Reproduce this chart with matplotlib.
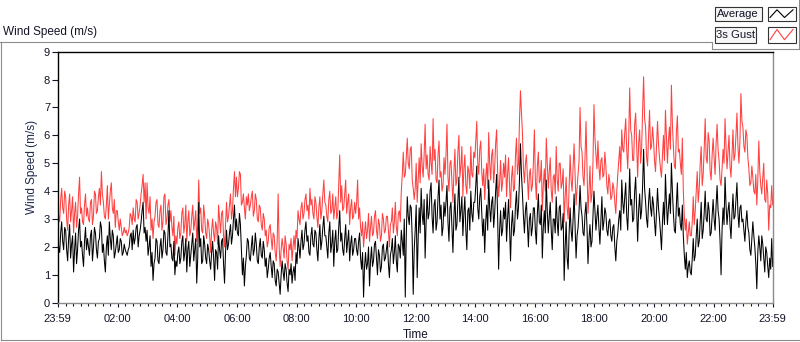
import numpy as np
import matplotlib
matplotlib.use("Agg")
import matplotlib.pyplot as plt
from matplotlib.lines import Line2D
from matplotlib.patches import Rectangle

plt.rcParams['font.family'] = ['Liberation Sans', 'DejaVu Sans']

# samples every 2 minutes, first sample at 23:59 of the previous day
start_min = -1
step_min = 2

# Average wind speed (m/s), one row per hour
avg_speed = [
    2.4, 2.0, 1.8, 2.5, 2.9, 2.2, 1.9, 2.7, 2.6, 1.9, 1.5, 2.3, 2.8, 1.6, 2.1, 2.4, 1.1, 1.9, 2.5, 1.4, 1.9, 2.6, 3.0, 2.0, 2.2, 1.7, 1.3, 2.2, 2.7, 1.9,
    2.3, 2.0, 1.7, 2.4, 2.6, 1.5, 2.0, 2.7, 2.5, 1.9, 1.6, 2.2, 2.3, 2.9, 2.7, 1.8, 2.1, 1.5, 1.1, 2.0, 2.4, 1.7, 2.9, 2.3, 1.9, 2.6, 2.4, 1.6, 1.8, 2.1,
    2.4, 1.8, 1.9, 2.3, 2.2, 1.7, 1.8, 2.1, 1.9, 1.8, 1.7, 1.9, 2.0, 2.4, 2.5, 1.9, 2.6, 2.1, 2.3, 2.7, 2.8, 2.0, 2.4, 2.6, 2.9, 3.3, 3.6, 2.5, 2.7, 2.2,
    2.6, 1.7, 2.0, 2.4, 1.3, 1.8, 0.8, 1.4, 1.6, 2.3, 2.2, 1.5, 1.4, 2.0, 2.3, 1.6, 1.9, 2.6, 2.5, 1.8, 1.7, 2.4, 3.3, 2.0, 2.1, 1.6, 1.5, 2.2, 1.0, 1.5,
    1.3, 1.8, 2.0, 1.4, 1.6, 2.2, 2.4, 1.5, 1.8, 2.3, 1.1, 1.9, 2.2, 1.3, 1.7, 2.1, 2.5, 1.5, 1.9, 2.3, 0.7, 1.6, 3.6, 2.0, 2.3, 1.4, 1.5, 2.4, 2.1, 1.6,
    1.4, 2.1, 1.9, 1.5, 1.2, 1.8, 2.2, 1.6, 0.8, 1.9, 1.8, 1.2, 2.4, 1.9, 1.6, 2.2, 2.3, 1.4, 0.7, 1.8, 2.6, 1.9, 2.1, 2.5, 2.8, 2.1, 2.4, 3.0, 3.5, 2.6,
    3.0, 2.5, 2.4, 3.2, 2.8, 1.9, 1.0, 1.6, 0.6, 1.3, 1.7, 2.3, 2.2, 1.6, 1.5, 2.0, 2.4, 1.7, 1.9, 2.5, 2.1, 1.5, 1.4, 2.0, 2.3, 1.7, 1.6, 2.2, 1.9, 1.3,
    1.6, 0.9, 1.2, 1.6, 1.8, 1.3, 0.9, 1.5, 1.4, 0.8, 0.6, 1.2, 1.1, 0.7, 0.3, 1.0, 1.5, 1.1, 0.8, 1.4, 1.2, 0.7, 0.4, 1.2, 1.0, 1.4, 0.7, 1.1, 1.3, 0.8,
    1.8, 1.4, 2.3, 2.0, 1.6, 2.2, 2.6, 1.9, 2.1, 2.6, 2.9, 2.2, 2.4, 1.8, 1.7, 2.4, 2.7, 2.1, 2.0, 2.6, 2.5, 1.9, 1.5, 2.3, 2.8, 1.9, 2.2, 2.7, 3.1, 2.4,
    2.4, 2.0, 1.6, 2.5, 2.9, 1.8, 2.1, 2.6, 1.3, 2.2, 2.6, 1.8, 1.9, 2.7, 3.3, 2.2, 2.5, 1.9, 1.7, 2.3, 2.8, 1.8, 2.2, 2.6, 1.5, 2.1, 2.4, 1.7, 1.9, 2.3,
    2.3, 1.9, 1.7, 2.2, 2.5, 1.6, 1.2, 1.8, 0.2, 1.3, 1.8, 1.2, 1.4, 2.0, 0.6, 1.5, 2.0, 1.3, 1.5, 2.1, 2.2, 1.6, 1.0, 1.9, 1.7, 1.1, 1.3, 2.0, 2.1, 1.5,
    1.6, 1.9, 2.2, 1.4, 0.9, 1.7, 1.9, 2.3, 1.4, 1.8, 2.4, 1.5, 1.1, 2.1, 2.0, 1.6, 2.6, 2.2, 1.7, 3.0, 0.2, 2.4, 3.8, 3.1, 2.8, 3.5, 3.4, 2.3, 0.3, 1.9,
    2.6, 3.5, 0.9, 2.3, 3.4, 2.5, 4.1, 3.2, 2.8, 3.7, 1.6, 2.9, 3.9, 3.0, 3.2, 4.0, 4.3, 3.1, 2.5, 3.5, 3.7, 2.6, 2.9, 3.8, 4.4, 3.0, 3.5, 2.4, 2.7, 3.6,
    3.1, 3.6, 4.2, 2.9, 2.2, 3.4, 3.6, 2.7, 1.8, 3.1, 3.9, 2.6, 2.8, 3.7, 4.5, 2.9, 3.3, 3.8, 2.4, 3.2, 3.8, 2.6, 1.9, 3.3, 3.4, 2.6, 4.0, 3.2, 2.9, 3.6,
    3.6, 4.2, 4.9, 3.4, 3.0, 3.8, 4.1, 3.2, 2.4, 3.0, 1.8, 2.9, 3.5, 2.6, 4.4, 3.4, 2.9, 3.6, 3.8, 2.7, 3.2, 4.0, 4.6, 3.1, 1.2, 2.6, 3.3, 2.4, 2.6, 3.4,
    3.0, 3.6, 2.2, 3.0, 3.7, 2.7, 1.5, 2.8, 3.3, 2.4, 2.6, 3.5, 4.0, 3.0, 3.4, 4.4, 5.7, 4.6, 3.9, 3.1, 2.5, 3.3, 3.6, 2.8, 2.0, 3.0, 3.2, 2.4, 2.7, 3.4,
    3.4, 2.6, 2.1, 3.2, 3.9, 2.9, 2.8, 3.5, 1.6, 2.7, 3.3, 2.5, 4.4, 3.3, 2.5, 3.1, 3.6, 2.6, 1.9, 3.0, 3.0, 2.5, 3.8, 2.9, 2.4, 3.4, 3.5, 2.6, 2.7, 3.2,
    0.8, 2.0, 2.9, 1.6, 1.2, 2.5, 3.4, 2.6, 2.2, 3.0, 3.9, 2.8, 1.6, 2.4, 2.7, 3.3, 4.2, 3.4, 3.1, 2.5, 2.4, 3.2, 3.6, 2.7, 1.4, 2.3, 2.8, 2.0, 2.2, 3.1,
    4.0, 3.3, 2.6, 3.1, 3.5, 2.7, 2.1, 3.0, 3.8, 2.6, 2.9, 3.4, 3.2, 2.6, 2.4, 2.9, 3.0, 2.4, 2.2, 2.7, 2.8, 2.0, 1.5, 2.2, 2.5, 3.0, 3.3, 2.6, 4.4, 3.6,
    3.2, 3.8, 4.3, 3.1, 2.6, 3.6, 4.8, 3.5, 3.7, 2.9, 3.0, 4.0, 4.5, 3.4, 2.2, 3.3, 3.9, 3.0, 3.3, 4.2, 5.5, 4.1, 3.6, 3.0, 2.7, 3.6, 4.1, 3.4, 3.1, 3.8,
    3.5, 2.9, 2.4, 3.3, 4.1, 3.4, 3.0, 2.5, 1.9, 2.9, 3.6, 2.8, 4.6, 3.6, 2.8, 3.4, 3.9, 3.2, 5.0, 4.0, 3.2, 2.6, 2.5, 3.5, 4.3, 3.1, 3.4, 2.8, 2.6, 3.5,
    2.4, 1.7, 1.2, 1.8, 0.9, 1.3, 1.5, 1.1, 1.0, 1.6, 2.3, 1.5, 1.7, 2.4, 3.0, 2.0, 2.2, 2.9, 3.6, 2.3, 2.6, 3.2, 4.0, 3.0, 2.9, 3.6, 3.3, 2.4, 2.5, 3.1,
    3.7, 3.0, 2.6, 3.5, 4.2, 3.3, 3.0, 2.2, 1.0, 2.6, 3.4, 2.8, 4.5, 3.5, 2.8, 3.3, 3.6, 2.8, 2.3, 3.2, 3.9, 3.0, 3.1, 3.7, 4.3, 3.2, 2.7, 3.4, 3.5, 2.9,
    3.0, 2.6, 2.2, 2.9, 3.3, 2.7, 2.5, 1.9, 1.7, 2.3, 2.9, 2.4, 2.0, 1.4, 0.5, 1.8, 2.4, 2.0, 1.5, 2.4, 2.1, 1.6, 1.1, 2.0, 1.8, 1.3, 0.9, 1.6, 1.2, 2.3,
    1.3,
]

# 3 second gust (m/s), one row per hour
gust_speed = [
    3.5, 3.1, 2.9, 3.7, 4.1, 3.4, 3.2, 4.0, 3.8, 3.0, 2.6, 3.5, 3.9, 2.9, 3.3, 3.8, 2.5, 3.2, 3.6, 2.7, 3.1, 3.9, 4.5, 3.2, 3.4, 2.9, 2.8, 3.5, 3.9, 3.1,
    3.4, 3.0, 2.9, 3.6, 3.7, 2.8, 3.1, 4.0, 3.9, 3.2, 3.3, 3.8, 4.1, 3.5, 4.7, 3.9, 3.6, 3.1, 3.0, 3.5, 4.2, 3.0, 3.5, 4.0, 4.3, 3.4, 3.2, 3.7, 2.7, 3.3,
    3.3, 2.9, 2.6, 3.0, 2.7, 2.4, 2.5, 2.7, 2.5, 2.6, 2.4, 2.5, 2.7, 3.2, 3.1, 2.8, 3.4, 3.0, 2.9, 3.7, 3.6, 3.0, 3.2, 3.5, 3.9, 4.2, 4.6, 3.6, 4.3, 3.0,
    4.3, 3.4, 3.2, 3.8, 2.6, 3.0, 2.3, 2.9, 3.1, 3.6, 3.7, 2.8, 2.7, 3.3, 3.5, 2.6, 2.9, 3.8, 3.9, 2.8, 3.0, 3.5, 3.7, 2.9, 3.3, 2.7, 2.4, 3.1, 1.7, 2.4,
    2.1, 2.7, 2.9, 2.3, 2.5, 3.2, 3.4, 2.5, 2.8, 3.5, 2.2, 2.9, 3.3, 2.4, 2.6, 3.1, 3.5, 2.6, 2.9, 3.3, 2.2, 2.8, 4.4, 3.2, 3.4, 2.6, 2.5, 3.5, 3.1, 2.5,
    2.3, 3.0, 2.8, 2.4, 1.8, 2.6, 3.0, 2.5, 2.2, 2.9, 2.7, 2.1, 3.5, 3.0, 2.5, 3.2, 3.3, 2.4, 2.0, 2.8, 3.6, 2.9, 3.1, 3.5, 3.9, 3.0, 3.3, 4.1, 4.7, 3.8,
    4.5, 3.8, 4.1, 4.7, 4.6, 3.5, 3.6, 3.9, 3.4, 3.0, 3.8, 3.5, 3.9, 3.3, 3.5, 3.8, 4.0, 3.1, 3.3, 3.9, 3.7, 3.0, 2.9, 3.5, 3.4, 2.8, 2.6, 3.2, 3.0, 2.4,
    2.6, 2.0, 2.2, 2.7, 2.8, 2.3, 1.9, 2.5, 2.4, 1.8, 1.5, 2.2, 3.9, 2.0, 1.3, 1.9, 2.3, 2.0, 1.6, 2.4, 2.1, 1.5, 1.2, 2.1, 1.9, 2.3, 1.5, 2.0, 2.4, 1.9,
    2.6, 2.3, 3.3, 3.0, 2.8, 3.4, 3.6, 3.0, 3.2, 3.7, 3.9, 3.3, 3.5, 3.0, 4.1, 3.5, 3.7, 3.2, 3.0, 3.8, 3.6, 3.1, 2.7, 3.4, 3.8, 3.0, 3.3, 3.9, 4.4, 3.6,
    3.5, 3.1, 2.9, 3.7, 4.0, 3.2, 3.3, 3.9, 3.0, 3.4, 3.8, 3.0, 3.2, 4.3, 5.3, 3.6, 4.2, 3.3, 3.4, 3.9, 4.4, 3.2, 3.6, 3.9, 2.8, 3.4, 3.7, 3.0, 3.1, 3.6,
    3.2, 3.6, 4.4, 3.0, 3.4, 2.7, 2.4, 2.9, 2.0, 2.5, 2.9, 2.3, 2.6, 3.2, 2.2, 2.7, 3.1, 2.4, 2.5, 3.1, 3.3, 2.6, 2.3, 3.0, 2.8, 2.2, 2.4, 3.2, 3.0, 2.5,
    2.6, 3.1, 3.1, 2.6, 2.0, 2.8, 2.9, 3.4, 2.5, 2.9, 3.6, 2.7, 2.4, 3.2, 3.3, 2.9, 4.0, 4.6, 5.4, 4.5, 4.6, 5.2, 5.9, 5.0, 4.8, 5.5, 5.6, 4.4, 4.1, 3.7,
    4.1, 5.0, 3.6, 4.4, 5.2, 4.3, 5.7, 4.9, 4.5, 5.3, 6.4, 4.8, 5.3, 4.6, 4.4, 5.6, 5.0, 4.6, 6.6, 5.1, 5.5, 4.4, 4.3, 5.3, 5.8, 4.5, 4.7, 4.0, 4.2, 5.2,
    4.6, 5.3, 6.4, 4.5, 4.0, 5.0, 5.1, 4.3, 3.6, 4.7, 5.5, 4.2, 4.4, 5.4, 6.0, 4.5, 4.9, 5.6, 3.8, 4.8, 5.3, 4.2, 3.9, 4.9, 4.7, 4.1, 5.6, 4.6, 4.5, 5.4,
    5.2, 5.8, 6.5, 5.0, 4.6, 5.5, 5.8, 4.7, 4.2, 4.8, 3.7, 4.5, 5.0, 4.1, 6.1, 5.0, 4.4, 5.3, 5.5, 4.3, 4.8, 5.7, 6.2, 4.7, 3.8, 4.3, 5.1, 4.0, 4.3, 5.0,
    4.5, 5.3, 3.8, 4.6, 5.2, 4.2, 3.4, 4.5, 4.9, 4.0, 4.1, 5.3, 5.9, 4.6, 5.0, 6.5, 7.6, 6.8, 6.1, 4.8, 4.3, 5.0, 5.3, 4.5, 3.7, 4.6, 4.8, 4.0, 4.2, 5.0,
    6.2, 4.4, 3.7, 4.9, 5.4, 4.3, 4.4, 5.1, 3.3, 4.2, 4.8, 4.0, 5.9, 5.0, 4.1, 4.7, 5.2, 4.0, 3.6, 4.5, 4.6, 3.9, 5.6, 4.4, 4.0, 5.0, 5.0, 4.1, 4.3, 4.8,
    2.9, 3.8, 4.5, 3.4, 3.0, 4.2, 5.3, 4.4, 4.0, 4.9, 5.7, 4.6, 3.5, 4.1, 4.6, 5.1, 7.0, 5.6, 5.4, 4.5, 4.2, 5.2, 6.5, 4.8, 3.2, 4.0, 4.9, 3.6, 3.9, 5.0,
    7.1, 5.9, 5.3, 4.8, 5.8, 4.9, 4.4, 5.1, 5.2, 4.5, 4.6, 5.4, 4.9, 4.2, 3.9, 4.6, 4.3, 3.7, 3.8, 4.3, 4.1, 3.6, 3.2, 4.0, 4.6, 5.1, 5.6, 4.7, 6.2, 5.5,
    5.4, 6.1, 6.6, 5.5, 4.8, 5.9, 7.7, 6.2, 6.0, 5.1, 5.1, 6.4, 6.8, 5.6, 4.5, 5.7, 6.2, 5.0, 5.5, 6.9, 8.1, 6.6, 6.3, 5.2, 4.9, 6.0, 6.9, 5.5, 5.6, 6.3,
    5.8, 5.1, 4.7, 5.6, 6.5, 5.7, 5.2, 4.8, 4.5, 5.3, 6.0, 5.1, 6.9, 6.0, 5.0, 5.8, 6.3, 5.5, 7.8, 6.4, 5.6, 4.9, 4.8, 6.1, 6.7, 5.4, 5.5, 5.0, 4.6, 5.9,
    4.0, 3.1, 2.6, 3.0, 2.1, 2.5, 2.9, 2.4, 2.4, 2.9, 3.8, 2.8, 3.3, 4.0, 4.7, 3.6, 4.1, 5.0, 5.6, 4.2, 4.6, 5.5, 6.6, 5.2, 5.0, 6.1, 5.8, 4.7, 4.4, 5.3,
    5.9, 5.2, 4.6, 5.7, 6.4, 5.5, 5.1, 4.4, 4.2, 4.8, 5.5, 5.0, 6.6, 5.6, 4.8, 5.4, 6.0, 4.9, 4.5, 5.3, 6.2, 5.1, 5.3, 6.0, 6.8, 5.6, 5.0, 5.8, 7.5, 6.5,
    6.3, 5.6, 5.4, 6.2, 6.0, 5.2, 4.8, 4.2, 4.3, 4.9, 4.5, 4.0, 3.9, 4.6, 3.5, 4.4, 5.8, 4.7, 4.2, 3.9, 4.5, 5.0, 3.7, 3.6, 4.4, 3.9, 2.6, 3.5, 3.4, 4.2,
    3.5,
]

y_ticks = list(range(10))
x_major = [-1, 120, 240, 360, 480, 600, 720, 840, 960, 1080, 1200, 1320, 1439]
x_labels = ['23:59', '02:00', '04:00', '06:00', '08:00', '10:00', '12:00',
            '14:00', '16:00', '18:00', '20:00', '22:00', '23:59']

W, H = 800, 342
text_col = '#141428'
frame_col = '#8c8c8c'


# convert pixel position (from top-left) to figure fraction
def fx(x):
    return x / W


def fy(y):
    return 1 - y / H


fig = plt.figure(figsize=(8, 3.42), dpi=100)
ax = fig.add_axes([fx(57.7), fy(302.7), fx(772.7) - fx(57.7), fy(51.7) - fy(302.7)])

t = start_min + step_min * np.arange(len(avg_speed))
ax.plot(t, gust_speed, color='#ff4040', lw=0.75)
ax.plot(t, avg_speed, color='black', lw=0.75)

ax.set_xlim(-1, 1439)
ax.set_ylim(0, 9)
ax.set_yticks(y_ticks)
ax.set_xticks(x_major, x_labels)
minor = [m for m in range(15, 1439, 15) if m % 120 != 0]
ax.set_xticks(minor, minor=True)

ax.tick_params(axis='y', which='major', direction='out', length=4, width=0.8,
               color=text_col, labelcolor=text_col, labelsize=8, pad=1.5)
ax.tick_params(axis='x', which='major', direction='out', length=3.1, width=0.8,
               color=text_col, labelcolor=text_col, labelsize=8, pad=5)
ax.tick_params(axis='x', which='minor', direction='out', length=2, width=0.8, color=text_col)

ax.spines['left'].set_color('black')
ax.spines['top'].set_color('black')
ax.spines['right'].set_color(frame_col)
ax.spines['bottom'].set_color(frame_col)
for s in ax.spines.values():
    s.set_linewidth(1.0)

ax.set_xlabel('Time', fontsize=8.5, color=text_col, labelpad=3.5)
ax.set_ylabel('Wind Speed (m/s)', fontsize=8.5, color='#1c2a4a')
ax.yaxis.set_label_coords(-0.028, 0.54)

# graph caption
fig.text(fx(3), fy(32), 'Wind Speed (m/s)', fontsize=8.5, color=text_col, va='center', ha='left')

# outer panel frame
def frame_line(xs, ys):
    fig.add_artist(Line2D([fx(v) for v in xs], [fy(v) for v in ys], color=frame_col, lw=0.8))

frame_line([0, 711.7], [42.3, 42.3])
frame_line([711.7, 711.7], [42.3, 49.3])
frame_line([711.7, 799], [49.3, 49.3])
frame_line([799, 799], [0, 49.3])
frame_line([1.2, 1.2], [42.3, 340])
frame_line([1.2, 800], [340, 340])

# legend
legend_rows = [('Average', 'black', 7.3, 20.5, 762), ('3s Gust', '#ff4040', 27, 42.7, 756)]
for name, col, y0, y1, x1 in legend_rows:
    fig.add_artist(Rectangle((fx(715), fy(y1)), fx(x1) - fx(715), fy(y0) - fy(y1),
                             facecolor='#f6f6f6', edgecolor='#333333', lw=0.8))
    fig.text(fx(716.5), fy((y0 + y1) / 2), name, fontsize=8.1, color=text_col,
             va='center', ha='left')
    fig.add_artist(Rectangle((fx(768), fy(y1)), fx(796) - fx(768), fy(y0) - fy(y1),
                             facecolor='white', edgecolor='#333333', lw=0.8))
    lo, hi = y1 - 3, y0 + 2.5
    fig.add_artist(Line2D([fx(770), fx(777), fx(784.5), fx(793)],
                          [fy(lo), fy(hi), fy(lo), fy(hi)], color=col, lw=0.8))

fig.savefig('out.png', dpi=100)
